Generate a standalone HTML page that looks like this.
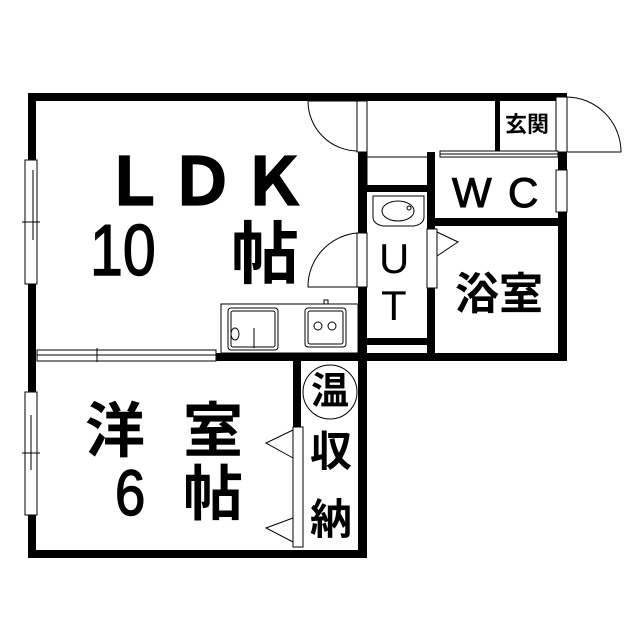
<!DOCTYPE html>
<html><head><meta charset="utf-8"><style>
html,body{margin:0;padding:0;background:#fff;}
svg{display:block;}
text{font-family:"Liberation Sans","Noto Sans CJK JP",sans-serif;fill:#000;font-weight:bold;}
</style></head><body>
<svg width="639" height="640" viewBox="0 0 639 640" xmlns="http://www.w3.org/2000/svg">
<rect width="639" height="640" fill="#fff"/>
<g fill="#000">
<rect x="28" y="93" width="539" height="8"/>
<rect x="28" y="93" width="8" height="465"/>
<rect x="558" y="93" width="9" height="267"/>
<rect x="216" y="353" width="351" height="8"/>
<rect x="358" y="93" width="9" height="465"/>
<rect x="28" y="550" width="338" height="8"/>
<rect x="427" y="152" width="8" height="208"/>
<rect x="367" y="185" width="60" height="7"/>
<rect x="435" y="218" width="123" height="8"/>
<rect x="367" y="338" width="60" height="7"/>
<rect x="495" y="101" width="5" height="51"/>
<rect x="293" y="361" width="8" height="67"/>
</g>
<g fill="#fff" stroke="#000" stroke-width="1">
<rect x="25" y="160" width="12" height="124"/>
<rect x="25" y="392" width="12" height="123"/>
<rect x="556" y="170" width="11" height="42"/>
<rect x="357" y="101" width="10" height="51"/>
<rect x="357" y="233" width="10" height="54"/>
<rect x="427" y="229" width="10" height="59"/>
<rect x="556" y="97" width="11" height="55"/>
<rect x="293" y="427" width="10" height="120"/>
<rect x="37" y="350" width="179" height="11"/>
<rect x="440" y="151" width="118" height="6"/>
</g>
<g fill="none" stroke="#000" stroke-width="1">
<line x1="33" y1="170" x2="33" y2="240"/>
<line x1="22" y1="222" x2="40" y2="222"/>
<line x1="31" y1="415" x2="31" y2="470"/>
<line x1="22" y1="453" x2="40" y2="453"/>
<line x1="37" y1="355" x2="216" y2="355"/>
<line x1="97" y1="348" x2="97" y2="362"/>
<line x1="440" y1="154" x2="558" y2="154"/>
<line x1="367" y1="157" x2="427" y2="157"/>
<line x1="367" y1="152" x2="367" y2="185"/>
<path d="M308 101 H357"/>
<path d="M308 101 A50 50 0 0 0 357 151"/>
<path d="M357 233 A54 54 0 0 0 308 287 H357"/>
<path d="M567 97 A55 55 0 0 1 621 152 H567"/>
<path d="M437 232 L458 242 L437 256"/>
<path d="M293 430 L266 443 L293 458"/>
<path d="M293 518 L266 528 L293 542"/>
<rect x="221" y="304" width="137" height="49"/>
<rect x="228" y="308" width="50" height="42" rx="3"/>
<rect x="231" y="311" width="44" height="36" rx="2"/>
<ellipse cx="235" cy="334" rx="4" ry="6"/>
<line x1="254" y1="328" x2="254" y2="348"/>
<rect x="305" y="308" width="41" height="39" rx="3"/>
<rect x="308" y="311" width="35" height="33" rx="2"/>
<circle cx="318" cy="326" r="4"/><circle cx="332" cy="326" r="4"/>
<rect x="324" y="300" width="4" height="4"/>
<path d="M373 196 H424 V217 Q424 224 414 226 H383 Q373 224 373 217 Z"/>
<ellipse cx="398" cy="211" rx="16" ry="10"/>
<circle cx="409" cy="208" r="2"/>
<circle cx="330" cy="392" r="27"/>
</g>
<g font-size="66" style="font-weight:normal">
<text x="101" y="205" stroke="#000" stroke-width="1.2">Ｌ</text>
<text x="169" y="205" stroke="#000" stroke-width="1.2">Ｄ</text>
<text x="241" y="205" stroke="#000" stroke-width="1.2">Ｋ</text>
</g>
<text x="0" y="0" font-size="72" style="font-weight:normal" stroke="#000" stroke-width="1.5" transform="translate(90 275) scale(0.82 1)">10</text>
<text x="231" y="278" font-size="68">帖</text>
<text x="505" y="132" font-size="22">玄関</text>
<text x="452" y="207" font-size="42" style="font-weight:normal" stroke="#000" stroke-width="1">W</text>
<text x="508" y="207" font-size="42" style="font-weight:normal" stroke="#000" stroke-width="1">C</text>
<text x="379" y="273" font-size="42" style="font-weight:normal">U</text>
<text x="381" y="320" font-size="42" style="font-weight:normal">T</text>
<text x="455" y="309" font-size="44">浴室</text>
<text x="85" y="452" font-size="60">洋</text>
<text x="183" y="452" font-size="60">室</text>
<text x="0" y="0" font-size="64" style="font-weight:normal" stroke="#000" stroke-width="1.5" transform="translate(115 515) scale(0.85 1)">6</text>
<text x="183" y="515" font-size="60">帖</text>
<text x="311" y="404" font-size="38">温</text>
<text x="310" y="466" font-size="42">収</text>
<text x="310" y="534" font-size="42">納</text>
</svg>
</body></html>
